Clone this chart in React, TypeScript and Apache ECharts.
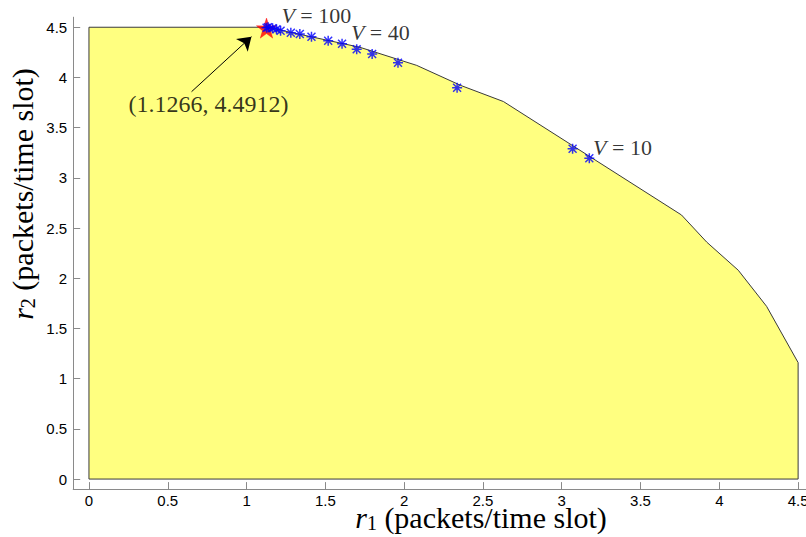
import React, { useEffect, useRef } from "react";
import * as echarts from "echarts";

// Boundary of the shaded rate region (r1, r2)
const regionR1 = [0, 0, 1.13, 1.72, 2.08, 2.36, 2.63, 3.76, 3.92, 4.12, 4.3, 4.5, 4.5];
const regionR2 = [0, 4.5, 4.5, 4.3, 4.12, 3.92, 3.76, 2.63, 2.36, 2.08, 1.72, 1.16, 0];

// Blue asterisk points (different V)
const starR1 = [1.127, 1.137, 1.165, 1.19, 1.216, 1.281, 1.338, 1.412, 1.518, 1.606, 1.699, 1.797, 1.961, 2.336, 3.069, 3.175];
const starR2 = [4.495, 4.5, 4.489, 4.479, 4.465, 4.445, 4.432, 4.405, 4.366, 4.336, 4.28, 4.233, 4.147, 3.898, 3.29, 3.195];

// Optimal point (red pentagram)
const optR1 = [1.1266];
const optR2 = [4.4912];

// Text annotations
const noteR1 = [1.218, 1.659, 3.196, 0.247];
const noteR2 = [4.612, 4.447, 3.302, 3.735];
const noteText = ["{i|V} = 100", "{i|V} = 40", "{i|V} = 10", "(1.1266, 4.4912)"];
const noteSize = [22, 22, 22, 24];

// Arrow from annotation to optimal point
const arrowFrom = [0.651, 3.858];
const arrowTo = [1.031, 4.406];

const tickValues = [0, 0.5, 1, 1.5, 2, 2.5, 3, 3.5, 4, 4.5];

const SERIF = "Liberation Serif";
const SANS = "Liberation Sans";

const asteriskPath =
  "path://M8.5 0 L11.5 0 L11.5 20 L8.5 20 Z M0 8.5 L20 8.5 L20 11.5 L0 11.5 Z M1 3.1 L3.1 1 L19 16.9 L16.9 19 Z M16.9 1 L19 3.1 L3.1 19 L1 16.9 Z";
const starPath =
  "path://M50 0 L61.8 35.1 L97.6 34.5 L69.1 56.7 L79.4 90.5 L50 70 L20.6 90.5 L30.9 56.7 L2.4 34.5 L38.2 35.1 Z";

export default function App() {
  const ref = useRef<HTMLDivElement>(null);

  useEffect(() => {
    document.body.style.margin = "0";
    if (!ref.current) return;
    const chart = echarts.init(ref.current, null, { renderer: "svg" });

    const regionData = regionR1.map((x, i) => [x, regionR2[i]]);
    const starData = starR1.map((x, i) => [x, starR2[i]]);
    const optData = optR1.map((x, i) => [x, optR2[i]]);
    const noteData = noteR1.map((x, i) => ({
      value: [x, noteR2[i]],
      label: { formatter: noteText[i], fontSize: noteSize[i] },
    }));

    const axisCommon = {
      type: "value" as const,
      min: -0.1,
      splitLine: { show: false },
      axisLine: { show: true, onZero: false, lineStyle: { color: "#8a8a8a", width: 1 } },
      axisTick: {
        show: true,
        inside: true,
        length: 7,
        customValues: tickValues,
        lineStyle: { color: "#8a8a8a", width: 1 },
      },
      axisLabel: {
        customValues: tickValues,
        formatter: (v: number) => String(v),
        color: "#000",
        fontSize: 15,
        lineHeight: 12,
        fontFamily: SANS,
      },
    };

    const titleRich = {
      i: { fontStyle: "italic", fontSize: 30, lineHeight: 18, fontFamily: SERIF, color: "#000" },
      s: { fontSize: 20, lineHeight: 6, fontFamily: SERIF, color: "#000", padding: [12, 0, 0, 0] },
      n: { fontSize: 30, lineHeight: 18, fontFamily: SERIF, color: "#000" },
    };

    chart.setOption({
      animation: false,
      backgroundColor: "#fff",
      grid: {
        left: 73.2,
        top: 17.2,
        width: 732.8,
        height: 471.9,
        containLabel: false,
        outerBoundsMode: "none",
      },
      xAxis: { ...axisCommon, max: 4.55, axisLabel: { ...axisCommon.axisLabel, margin: 5 } },
      yAxis: { ...axisCommon, max: 4.6, axisLabel: { ...axisCommon.axisLabel, margin: 6 } },
      graphic: [
        {
          type: "text",
          x: 481,
          y: 517,
          style: {
            text: "{i|r}{s|1}{n| (packets/time slot)}",
            rich: titleRich,
            align: "center",
            verticalAlign: "middle",
          },
        },
        {
          type: "text",
          x: 22,
          y: 194,
          rotation: Math.PI / 2,
          style: {
            text: "{i|r}{s|2}{n| (packets/time slot)}",
            rich: titleRich,
            align: "center",
            verticalAlign: "middle",
          },
        },
      ],
      series: [
        {
          type: "custom",
          z: 1,
          silent: true,
          data: regionData,
          renderItem: (params: any, api: any) => {
            if (params.dataIndex !== 0) return null;
            const pts = regionData.map((p) => api.coord(p));
            return {
              type: "polygon",
              shape: { points: pts },
              style: { fill: "#ffff80", stroke: "#3a3a3a", lineWidth: 1 },
            };
          },
        },
        {
          type: "scatter",
          z: 3,
          silent: true,
          symbol: starPath,
          symbolSize: 20,
          itemStyle: { color: "#ff0000", borderColor: "#ff0000", borderWidth: 0.5 },
          data: optData,
        },
        {
          type: "scatter",
          z: 4,
          silent: true,
          symbol: asteriskPath,
          symbolSize: 10,
          itemStyle: { color: "#0000ff" },
          data: starData,
        },
        {
          type: "scatter",
          z: 5,
          silent: true,
          clip: false,
          symbolSize: 1,
          itemStyle: { color: "transparent" },
          label: {
            show: true,
            position: "right",
            distance: 0,
            color: "#000",
            fontFamily: SERIF,
            rich: {
              i: { fontStyle: "italic", fontFamily: SERIF, fontSize: 22, color: "#000" },
            },
          },
          data: noteData,
          markLine: {
            silent: true,
            symbol: ["none", "arrow"],
            symbolSize: 13,
            label: { show: false },
            lineStyle: { color: "#000", width: 1, type: "solid" },
            data: [[{ coord: arrowFrom }, { coord: arrowTo }]],
          },
        },
      ],
    });

    return () => chart.dispose();
  }, []);

  return <div ref={ref} style={{ width: 806, height: 537 }} />;
}
